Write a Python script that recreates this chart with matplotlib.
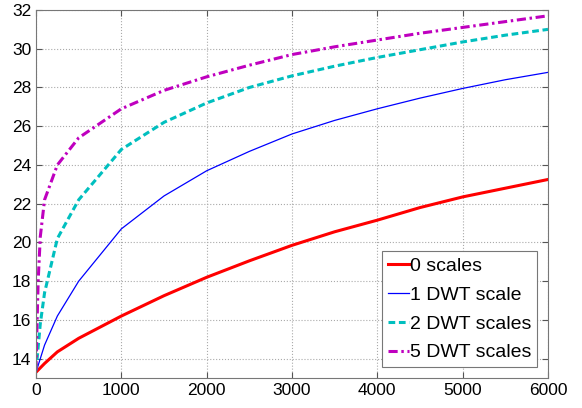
import matplotlib
matplotlib.use("Agg")
import matplotlib.pyplot as plt

plt.rcParams['font.family'] = ['Liberation Sans', 'DejaVu Sans']

x_red = [0, 100, 250, 500, 1000, 1500, 2000, 2500, 3000, 3500, 4000, 4500, 5000, 5500, 6000]
y_red = [13.3, 13.75, 14.35, 15.05, 16.2, 17.25, 18.2, 19.05, 19.85, 20.55, 21.15, 21.8, 22.35, 22.8, 23.25]

x_blue = [0, 100, 250, 500, 1000, 1500, 2000, 2500, 3000, 3500, 4000, 4500, 5000, 5500, 6000]
y_blue = [13.3, 14.7, 16.2, 18.0, 20.7, 22.4, 23.7, 24.7, 25.6, 26.3, 26.9, 27.45, 27.95, 28.4, 28.78]

x_cyan = [0, 25, 50, 100, 250, 500, 1000, 1500, 2000, 2500, 3000, 3500, 4000, 4500, 5000, 5500, 6000]
y_cyan = [13.4, 14.6, 15.8, 17.4, 20.2, 22.2, 24.8, 26.2, 27.2, 28.0, 28.6, 29.1, 29.55, 29.95, 30.35, 30.7, 31.0]

x_mag = [0, 10, 25, 50, 100, 250, 500, 1000, 1500, 2000, 2500, 3000, 3500, 4000, 4500, 5000, 5500, 6000]
y_mag = [13.4, 15.5, 18.0, 20.3, 22.2, 24.0, 25.4, 26.9, 27.85, 28.55, 29.15, 29.7, 30.1, 30.45, 30.8, 31.1, 31.4, 31.7]

labels = ['0 scales', '1 DWT scale', '2 DWT scales', '5 DWT scales']
x_ticks = [0, 1000, 2000, 3000, 4000, 5000, 6000]
y_ticks = [14, 16, 18, 20, 22, 24, 26, 28, 30, 32]

fig = plt.figure(figsize=(5.82, 4.08), dpi=100)
ax = fig.add_axes([0.0619, 0.0735, 0.8797, 0.902])

ax.plot(x_red, y_red, color='#ff0000', lw=2.2, ls='-', label=labels[0])
ax.plot(x_blue, y_blue, color='#0000ff', lw=0.9, ls='-', label=labels[1])
ax.plot(x_cyan, y_cyan, color='#00bfbf', lw=2.2, ls=(0, (2.2, 1.2)), label=labels[2])
ax.plot(x_mag, y_mag, color='#bf00bf', lw=2.2, ls=(0, (3, 1.2, 0.8, 1.2)), label=labels[3])

ax.set_xlim(0, 6000)
ax.set_ylim(13, 32)
ax.set_xticks(x_ticks)
ax.set_yticks(y_ticks)
ax.tick_params(direction='in', top=True, right=True, labelsize=12.5, colors='#555555', labelcolor='black', length=4)
for s in ax.spines.values():
    s.set_color('#777777')
ax.grid(True, ls=':', color='#aaaaaa', lw=0.8)

leg = ax.legend(loc='lower right', fontsize=14, handlelength=1.1, handletextpad=0.05,
                borderpad=0.3, labelspacing=0.58, fancybox=False, framealpha=1,
                edgecolor='#777777', borderaxespad=0.55)
leg.get_frame().set_linewidth(0.8)

fig.savefig('out.png', dpi=100)
